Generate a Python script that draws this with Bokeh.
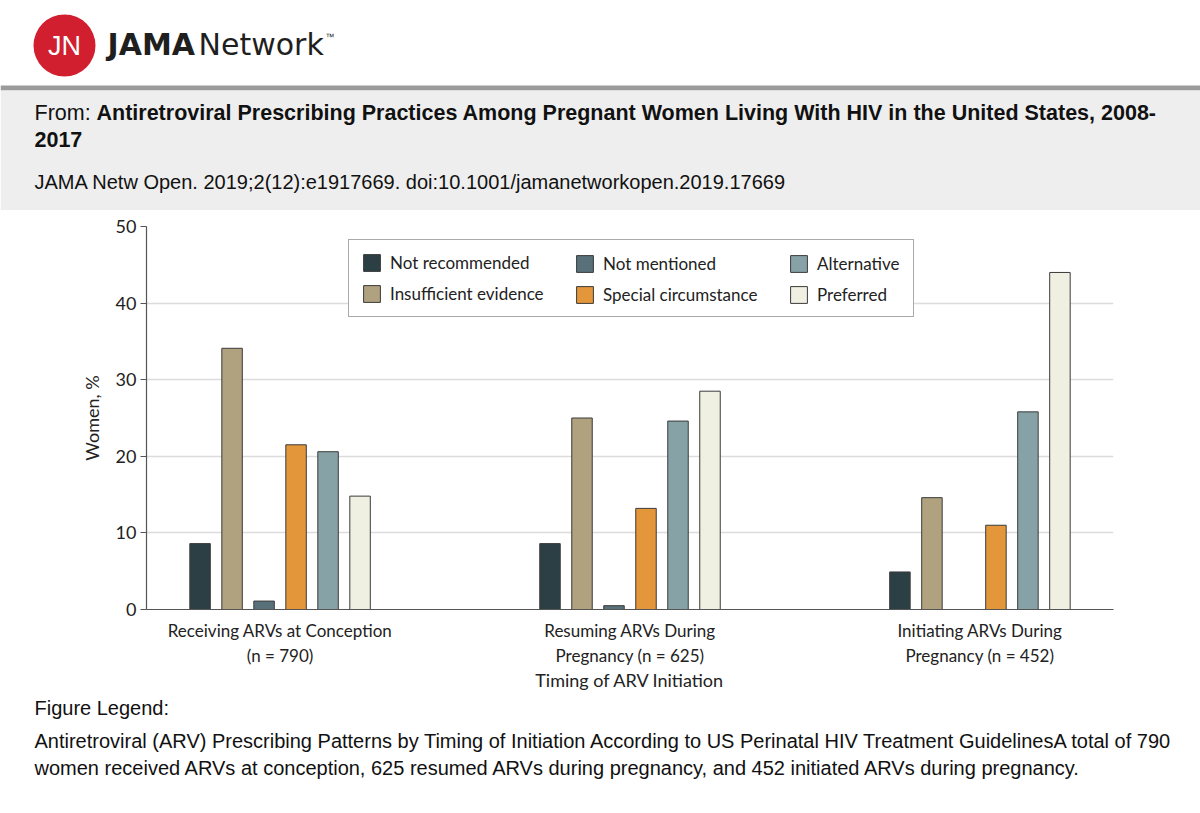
from bokeh.plotting import figure
from bokeh.models import (ColumnDataSource, FactorRange, Range1d, Legend, LegendItem,
                          FixedTicker)
from bokeh.layouts import column
from bokeh.transform import dodge
from bokeh.core.properties import value
from bokeh.embed import file_html
from bokeh.resources import INLINE

# ---------------- data ----------------
groups = ["Receiving ARVs at Conception\n(n = 790)",
          "Resuming ARVs During\nPregnancy (n = 625)",
          "Initiating ARVs During\nPregnancy (n = 452)"]
series = ["Not recommended", "Insufficient evidence", "Not mentioned",
          "Special circumstance", "Alternative", "Preferred"]
not_recommended = [8.6, 8.6, 4.9]
insufficient_evidence = [34.1, 25.0, 14.6]
not_mentioned = [1.1, 0.5, 0.0]
special_circumstance = [21.5, 13.2, 11.0]
alternative = [20.6, 24.6, 25.8]
preferred = [14.8, 28.5, 44.0]
y_ticks = [0, 10, 20, 30, 40, 50]

title_from = "From: "
title_bold_1 = "Antiretroviral Prescribing Practices Among Pregnant Women Living With HIV in the United States, 2008-"
title_bold_2 = "2017"
citation = "JAMA Netw Open. 2019;2(12):e1917669. doi:10.1001/jamanetworkopen.2019.17669"
legend_head = "Figure Legend:"
legend_body_1 = "Antiretroviral (ARV) Prescribing Patterns by Timing of Initiation According to US Perinatal HIV Treatment GuidelinesA total of 790"
legend_body_2 = "women received ARVs at conception, 625 resumed ARVs during pregnancy, and 452 initiated ARVs during pregnancy."

# ---------------- styles ----------------
colors = ["#2c3f45", "#b0a17f", "#587079", "#e4963a", "#87a2a7", "#efefe2"]
SANS = value("Liberation Sans")
LOGO = value("DejaVu Sans")
CHART_FONT = "Lato"
W = 1200

# ---------------- header ----------------
hdr = figure(width=W, height=210, x_range=Range1d(0, 1200), y_range=Range1d(210, 0),
             output_backend="svg", toolbar_location=None, min_border=0,
             x_axis_location=None, y_axis_location=None, outline_line_color=None,
             frame_align=False)
hdr.grid.visible = False
hdr.quad(left=[0], right=[1200], top=[85], bottom=[90], fill_color="#9b9b9b", line_color=None)
hdr.quad(left=[0], right=[1200], top=[90], bottom=[210], fill_color="#eeeeee", line_color=None)
hdr.circle(x=[64], y=[45], radius=31, fill_color="#d11f2f", line_color=None)
hdr.text(x=[64], y=[45], text=["JN"], text_font=SANS, text_font_size="27px",
         text_color="white", text_align="center", text_baseline="middle")
hdr.text(x=[107], y=[44], text=["JAMA"], text_font=LOGO, text_font_style="bold",
         text_font_size="30px", text_color="#1f1f1f", text_baseline="middle")
hdr.text(x=[198], y=[44], text=["Network"], text_font=LOGO,
         text_font_size="30px", text_color="#1f1f1f", text_baseline="middle")
hdr.text(x=[325], y=[36], text=["\u2122"], text_font=SANS,
         text_font_size="9px", text_color="#1f1f1f", text_baseline="middle")
hdr.text(x=[34], y=[112], text=[title_from], text_font=SANS,
         text_font_size="21.5px", text_color="#111", text_baseline="middle")
hdr.text(x=[96], y=[112], text=[title_bold_1], text_font=SANS, text_font_style="bold",
         text_font_size="21.5px", text_color="#111", text_baseline="middle")
hdr.text(x=[34], y=[139], text=[title_bold_2], text_font=SANS, text_font_style="bold",
         text_font_size="21.5px", text_color="#111", text_baseline="middle")
hdr.text(x=[34], y=[181], text=[citation], text_font=SANS,
         text_font_size="20px", text_color="#111", text_baseline="middle")

# ---------------- chart ----------------
p = figure(width=W, height=485, x_range=FactorRange(factors=groups, factor_padding=0.31),
           y_range=Range1d(0, 50), output_backend="svg", toolbar_location=None,
           min_border_left=146, min_border_right=87, min_border_top=16, min_border_bottom=86,
           outline_line_color=None, frame_align=False)

src = ColumnDataSource(dict(group=groups, s0=not_recommended, s1=insufficient_evidence,
                            s2=not_mentioned, s3=special_circumstance, s4=alternative,
                            s5=preferred))
pitch = 0.1198
bar_w = 0.0767
renderers = []
for i, name in enumerate(series):
    r = p.vbar(x=dodge("group", (i - 2.5) * pitch, range=p.x_range), top="s%d" % i,
               width=bar_w, source=src, fill_color=colors[i], line_color="#3a3a3a",
               line_width=1)
    renderers.append(r)

common = dict(orientation="vertical", margin=0, padding=12, spacing=10, glyph_width=21,
              glyph_height=21, label_height=21, label_standoff=8,
              label_text_font=CHART_FONT, label_text_font_size="17px",
              label_text_color="#222", border_line_width=1)
# one legend per legend column; the first one carries the frame of the whole box
leg1 = Legend(items=[LegendItem(label=series[0], renderers=[renderers[0]]),
                     LegendItem(label=series[1], renderers=[renderers[1]])],
              location=(202, 292), label_width=511, border_line_color="#555",
              background_fill_color="white", background_fill_alpha=1, **common)
leg2 = Legend(items=[LegendItem(label=series[2], renderers=[renderers[2]]),
                     LegendItem(label=series[3], renderers=[renderers[3]])],
              location=(416, 292), border_line_color="#555", border_line_alpha=0,
              background_fill_alpha=0, **common)
leg3 = Legend(items=[LegendItem(label=series[4], renderers=[renderers[4]]),
                     LegendItem(label=series[5], renderers=[renderers[5]])],
              location=(630, 292), border_line_color="#555", border_line_alpha=0,
              background_fill_alpha=0, **common)
for lg in (leg1, leg2, leg3):
    p.add_layout(lg, "center")

p.xgrid.visible = False
p.ygrid.grid_line_color = "#dcdcdc"
p.ygrid.grid_line_width = 1.6
p.yaxis.ticker = FixedTicker(ticks=y_ticks)
p.yaxis.axis_label = "Women, %"
p.xaxis.axis_label = "Timing of ARV Initiation"
for ax in (p.xaxis, p.yaxis):
    ax.axis_line_color = "#555"
    ax.axis_line_width = 1.2
    ax.major_tick_line_color = "#555"
    ax.major_label_text_font = CHART_FONT
    ax.major_label_text_font_size = "17px"
    ax.major_label_text_color = "#222"
    ax.axis_label_text_font = CHART_FONT
    ax.axis_label_text_font_size = "18px"
    ax.axis_label_text_font_style = "normal"
    ax.axis_label_text_color = "#222"
    ax.minor_tick_line_color = None
p.yaxis.major_label_text_font_size = "18px"
p.yaxis.major_tick_out = 6
p.yaxis.major_tick_in = 0
p.yaxis.major_label_standoff = 4
p.yaxis.axis_label_standoff = 10
p.xaxis.major_tick_out = 0
p.xaxis.major_tick_in = 0
p.xaxis.major_label_standoff = 10
p.xaxis.axis_label_standoff = 0

# ---------------- footer ----------------
ftr = figure(width=W, height=110, x_range=Range1d(0, 1200), y_range=Range1d(805, 695),
             output_backend="svg", toolbar_location=None, min_border=0,
             x_axis_location=None, y_axis_location=None, outline_line_color=None,
             frame_align=False)
ftr.grid.visible = False
ftr.text(x=[34, 34, 34], y=[707, 740, 767], text=[legend_head, legend_body_1, legend_body_2],
         text_font=SANS, text_font_size="20px", text_color="#111", text_baseline="middle")

layout = column(hdr, p, ftr, spacing=0)
open("out.html", "w").write(file_html(layout, INLINE))
